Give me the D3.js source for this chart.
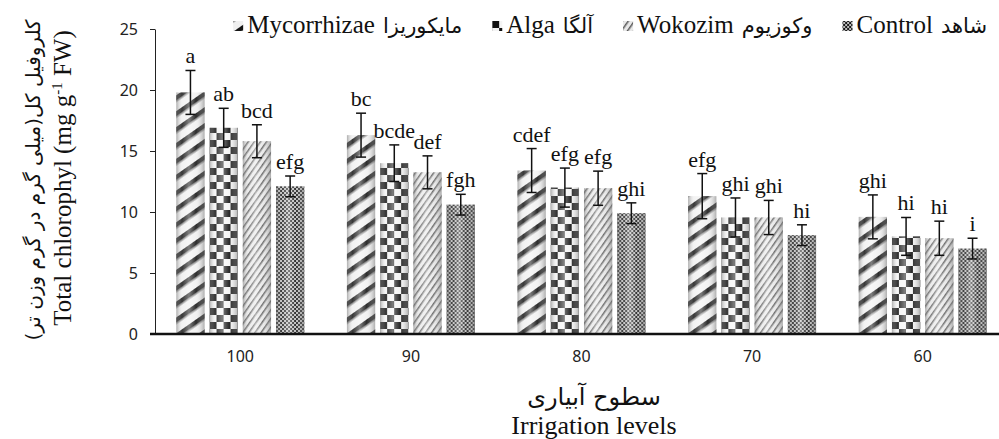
<!DOCTYPE html>
<html>
<head>
<meta charset="utf-8">
<script src="https://cdn.jsdelivr.net/npm/d3@7"></script>
<style>
  body { margin: 0; background: #fff; }
  .axis text { font-family: "Noto Sans", sans-serif; font-size: 16px; fill: #222; }
</style>
</head>
<body>
<div id="chart"></div>
<script>
var levels = ["100", "90", "80", "70", "60"];
var seriesKeys = ["myco", "alga", "woko", "control"];
var seriesEn = ["Mycorrhizae", "Alga", "Wokozim", "Control"];
var seriesFa = ["مایکوریزا", "آلگا", "وکوزیوم", "شاهد"];

var mycoVals = [19.8, 16.3, 13.4, 11.3, 9.6];
var algaVals = [16.9, 14.0, 12.0, 9.55, 8.0];
var wokoVals = [15.8, 13.25, 11.95, 9.55, 7.85];
var controlVals = [12.1, 10.6, 9.9, 8.1, 7.0];

var mycoErr = [1.8, 1.8, 1.8, 1.85, 1.8];
var algaErr = [1.6, 1.5, 1.6, 1.6, 1.55];
var wokoErr = [1.35, 1.35, 1.4, 1.4, 1.4];
var controlErr = [0.85, 0.85, 0.85, 0.85, 0.85];

var mycoLetters = ["a", "bc", "cdef", "efg", "ghi"];
var algaLetters = ["ab", "bcde", "efg", "ghi", "hi"];
var wokoLetters = ["bcd", "def", "efg", "ghi", "hi"];
var controlLetters = ["efg", "fgh", "ghi", "hi", "i"];

var yTicks = [0, 5, 10, 15, 20, 25];

var allVals = [mycoVals, algaVals, wokoVals, controlVals],
    allErr = [mycoErr, algaErr, wokoErr, controlErr],
    allLetters = [mycoLetters, algaLetters, wokoLetters, controlLetters];

var SERIF = '"Liberation Serif", "Times New Roman", serif';
var FARSI = '"DejaVu Sans", sans-serif';

var width = 999, height = 439;

var svg = d3.select("#chart").append("svg")
    .attr("width", width)
    .attr("height", height);

var defs = svg.append("defs");

// bar fill patterns
var p1 = defs.append("pattern").attr("id", "pat-myco")
    .attr("patternUnits", "userSpaceOnUse").attr("width", 13).attr("height", 13)
    .attr("patternTransform", "rotate(-35)");
p1.append("rect").attr("width", 13).attr("height", 13).attr("fill", "#f0f0f0");
p1.append("rect").attr("y", 0).attr("width", 13).attr("height", 4).attr("fill", "#151515");
p1.append("rect").attr("y", 4).attr("width", 13).attr("height", 1.5).attr("fill", "#777");

var p2 = defs.append("pattern").attr("id", "pat-alga")
    .attr("patternUnits", "userSpaceOnUse").attr("width", 14).attr("height", 14);
p2.append("rect").attr("width", 14).attr("height", 14).attr("fill", "#f4f4f4");
p2.append("rect").attr("width", 7).attr("height", 7).attr("fill", "#111");
p2.append("rect").attr("x", 7).attr("y", 7).attr("width", 7).attr("height", 7).attr("fill", "#111");

var p3 = defs.append("pattern").attr("id", "pat-woko")
    .attr("patternUnits", "userSpaceOnUse").attr("width", 5).attr("height", 5)
    .attr("patternTransform", "rotate(-55)");
p3.append("rect").attr("width", 5).attr("height", 5).attr("fill", "#e8e8e8");
p3.append("rect").attr("width", 5).attr("height", 1.5).attr("fill", "#5a5a5a");

var p4 = defs.append("pattern").attr("id", "pat-control")
    .attr("patternUnits", "userSpaceOnUse").attr("width", 4).attr("height", 4);
p4.append("rect").attr("width", 4).attr("height", 4).attr("fill", "#1a1a1a");
p4.append("rect").attr("width", 2).attr("height", 2).attr("fill", "#bbb");
p4.append("rect").attr("x", 2).attr("y", 2).attr("width", 2).attr("height", 2).attr("fill", "#bbb");

// cylinder shading laid over each bar
var grad = defs.append("linearGradient").attr("id", "shade")
    .attr("x1", "0").attr("x2", "1").attr("y1", "0").attr("y2", "0");
[[0, "#777", 0.55], [0.2, "#fff", 0.15], [0.45, "#fff", 0.45], [0.7, "#fff", 0.1], [1, "#777", 0.55]]
  .forEach(function(s) {
    grad.append("stop").attr("offset", s[0]).attr("stop-color", s[1]).attr("stop-opacity", s[2]);
  });

var x0 = d3.scaleBand().domain(levels).range([155, 1008])
    .paddingInner(0.25).paddingOuter(0.125);
var x1 = d3.scaleBand().domain(seriesKeys).range([0, x0.bandwidth()]).paddingInner(0.15);
var y = d3.scaleLinear().domain([0, 25]).range([334, 29]);

// y axis
var yAxis = svg.append("g")
    .attr("class", "axis")
    .attr("transform", "translate(155,0)")
    .call(d3.axisLeft(y).tickValues(yTicks).tickSize(5).tickPadding(12).tickSizeOuter(0));
yAxis.select(".domain").attr("stroke", "#222");
yAxis.selectAll(".tick line").attr("stroke", "#222");

// x axis labels only
var xAxis = svg.append("g")
    .attr("class", "axis")
    .attr("transform", "translate(0,334)")
    .call(d3.axisBottom(x0).tickSize(0).tickPadding(17));
xAxis.select(".domain").remove();

// bars
var groups = svg.append("g").selectAll("g")
  .data(levels)
  .enter().append("g")
    .attr("transform", function(d) { return "translate(" + x0(d) + ",0)"; });

var bars = groups.selectAll("g.bar")
  .data(function(d, i) {
    return seriesKeys.map(function(k, j) {
      return {key: k, value: allVals[j][i], err: allErr[j][i], letter: allLetters[j][i]};
    });
  })
  .enter().append("g")
    .attr("class", "bar")
    .attr("transform", function(d) { return "translate(" + x1(d.key) + ",0)"; });

bars.append("rect")
    .attr("width", x1.bandwidth())
    .attr("y", function(d) { return y(d.value); })
    .attr("height", function(d) { return y(0) - y(d.value); })
    .attr("fill", function(d) { return "url(#pat-" + d.key + ")"; });

bars.append("rect")
    .attr("width", x1.bandwidth())
    .attr("y", function(d) { return y(d.value); })
    .attr("height", function(d) { return y(0) - y(d.value); })
    .attr("fill", "url(#shade)");

var bw = x1.bandwidth();
bars.append("line")
    .attr("x1", bw / 2).attr("x2", bw / 2)
    .attr("y1", function(d) { return y(d.value + d.err); })
    .attr("y2", function(d) { return y(d.value - d.err); })
    .attr("stroke", "#111").attr("stroke-width", 1.5);
bars.append("line")
    .attr("x1", bw / 2 - 5).attr("x2", bw / 2 + 5)
    .attr("y1", function(d) { return y(d.value + d.err); })
    .attr("y2", function(d) { return y(d.value + d.err); })
    .attr("stroke", "#111").attr("stroke-width", 1.5);
bars.append("line")
    .attr("x1", bw / 2 - 5).attr("x2", bw / 2 + 5)
    .attr("y1", function(d) { return y(d.value - d.err); })
    .attr("y2", function(d) { return y(d.value - d.err); })
    .attr("stroke", "#111").attr("stroke-width", 1.5);

bars.append("text")
    .attr("x", bw / 2)
    .attr("y", function(d) { return y(d.value + d.err) - 7; })
    .attr("text-anchor", "middle")
    .style("font-family", SERIF)
    .style("font-size", "22px")
    .style("fill", "#111")
    .text(function(d) { return d.letter; });

// x axis line (thick)
svg.append("line")
    .attr("x1", 150).attr("x2", 1008)
    .attr("y1", y(0)).attr("y2", y(0))
    .attr("stroke", "#111").attr("stroke-width", 2.5);

// y axis title
svg.append("text")
    .attr("transform", "translate(40,180) rotate(-90)")
    .attr("text-anchor", "middle")
    .style("font-family", FARSI)
    .style("font-size", "20px")
    .style("fill", "#111")
    .text("کلروفیل کل(میلی گرم در گرم وزن تر)");

var yt = svg.append("text")
    .attr("transform", "translate(71,178) rotate(-90)")
    .attr("text-anchor", "middle")
    .style("font-family", SERIF)
    .style("fill", "#111")
    .style("font-size", "25px");
yt.append("tspan").text("Total chlorophyl (mg g");
yt.append("tspan").attr("dy", -9).style("font-size", "15px").text("-1");
yt.append("tspan").attr("dy", 9).text(" FW)");

// x axis title
svg.append("text")
    .attr("x", 594).attr("y", 405)
    .attr("text-anchor", "middle")
    .style("font-family", FARSI)
    .style("font-size", "24px")
    .style("fill", "#111")
    .text("سطوح آبیاری");
svg.append("text")
    .attr("x", 594).attr("y", 434)
    .attr("text-anchor", "middle")
    .style("font-family", SERIF)
    .style("font-size", "26px")
    .style("fill", "#111")
    .text("Irrigation levels");

// legend, laid out left to right then pushed so it ends near the right edge
var legend = svg.append("g");
var lx = 0;
seriesKeys.forEach(function(k, j) {
  legend.append("rect")
      .attr("x", lx).attr("y", 21)
      .attr("width", 10).attr("height", 10)
      .attr("fill", "url(#pat-" + k + ")");
  lx += 14;
  var en = legend.append("text")
      .attr("x", lx).attr("y", 33)
      .style("font-family", SERIF)
      .style("font-size", "25px")
      .style("fill", "#111")
      .text(seriesEn[j]);
  lx += en.node().getComputedTextLength() + 8;
  var fa = legend.append("text")
      .attr("x", lx).attr("y", 33)
      .style("font-family", FARSI)
      .style("font-size", "21px")
      .style("fill", "#111")
      .text(seriesFa[j]);
  lx += fa.node().getComputedTextLength() + (j < 3 ? 30 : 0);
});
legend.attr("transform", "translate(" + (987 - lx) + ",0)");
</script>
</body>
</html>
